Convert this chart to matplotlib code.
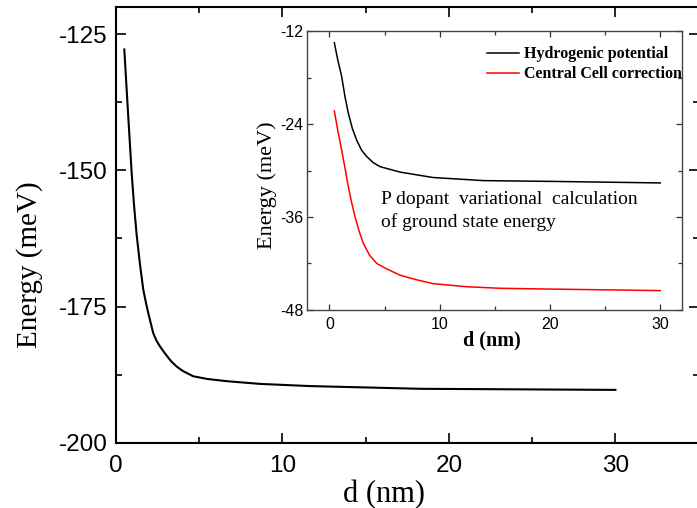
import numpy as np
import matplotlib
matplotlib.use("Agg")
import matplotlib.pyplot as plt
from matplotlib.ticker import MultipleLocator

plt.rcParams["axes.unicode_minus"] = False

# donnees
d_main = [0.5, 0.7, 0.94, 1.09, 1.24, 1.44, 1.64, 1.8, 1.94, 2.1, 2.24, 2.44, 2.64, 2.94, 3.3, 3.64,
          4.0, 4.64, 5.5, 6.65, 8.65, 11.65, 18.3, 30]
E_main = [-127.8, -138.2, -150.4, -156.6, -161.8, -167.2, -171.9, -174.3, -176.2, -178.2, -179.9,
          -181.3, -182.3, -183.6, -185.0, -186.0, -186.8, -187.8, -188.3, -188.7, -189.2, -189.6,
          -190.1, -190.3]

d_hyd = [0.45, 0.76, 1.12, 1.42, 1.72, 2.09, 2.48, 2.93, 3.39, 3.99, 4.6, 6.4, 9.4, 13.96, 20, 30]
E_hyd = [-13.5, -15.7, -17.9, -20.5, -22.6, -24.6, -26.1, -27.4, -28.2, -29.0, -29.5, -30.2, -30.9,
         -31.3, -31.4, -31.6]

d_ccc = [0.45, 0.76, 1.12, 1.42, 1.72, 2.03, 2.33, 2.69, 3.08, 3.63, 4.3, 5.2, 6.4, 7.9, 9.4, 12.45,
         15.5, 20, 30]
E_ccc = [-22.3, -24.8, -27.4, -29.7, -32.1, -34.2, -36.0, -37.8, -39.4, -40.9, -42.0, -42.7, -43.5,
         -44.1, -44.6, -45.0, -45.2, -45.3, -45.5]

sans = "Liberation Sans"
serif = "Liberation Serif"

fig = plt.figure(figsize=(6.97, 5.08), dpi=100)

# axe principal
ax = fig.add_axes([0.1664, 0.1285, 0.836, 0.8577])
ax.plot(d_main, E_main, color="black", lw=1.5)
ax.set_xlim(0, 35)
ax.set_ylim(-200, -120)
ax.xaxis.set_major_locator(MultipleLocator(10))
ax.xaxis.set_minor_locator(MultipleLocator(5))
ax.yaxis.set_major_locator(MultipleLocator(25))
ax.yaxis.set_minor_locator(MultipleLocator(12.5))
ax.tick_params(which="both", direction="in", top=True, right=True, width=1.2)
ax.tick_params(which="major", length=7)
ax.tick_params(which="minor", length=4.5)
ax.tick_params(axis="x", pad=9)
ax.tick_params(axis="y", pad=6)
for s in ax.spines.values():
    s.set_linewidth(1.5)
for lab in ax.get_xticklabels() + ax.get_yticklabels():
    lab.set_fontfamily(sans)
    lab.set_fontsize(17.5)
ax.set_xlabel("d (nm)", fontfamily=serif, fontsize=22)
ax.set_ylabel("Energy (meV)", fontfamily=serif, fontsize=21)
ax.xaxis.set_label_coords(0.46, -0.085)
ax.yaxis.set_label_coords(-0.125, 0.408)

# encart
ins = fig.add_axes([0.4409, 0.3898, 0.538, 0.549])
ins.plot(d_hyd, E_hyd, color="black", lw=1.1, label="Hydrogenic potential")
ins.plot(d_ccc, E_ccc, color="red", lw=1.1, label="Central Cell correction")
ins.set_xlim(-2, 32)
ins.set_ylim(-48, -12)
ins.xaxis.set_major_locator(MultipleLocator(10))
ins.xaxis.set_minor_locator(MultipleLocator(5))
ins.yaxis.set_major_locator(MultipleLocator(12))
ins.yaxis.set_minor_locator(MultipleLocator(6))
ins.tick_params(which="both", direction="in", top=True, right=True, width=0.9, color="#333333")
ins.tick_params(which="major", length=4)
ins.tick_params(which="minor", length=3)
ins.tick_params(axis="x", pad=5)
ins.tick_params(axis="y", pad=3)
for s in ins.spines.values():
    s.set_linewidth(1.0)
    s.set_color("#444444")
for lab in ins.get_xticklabels() + ins.get_yticklabels():
    lab.set_fontfamily(sans)
    lab.set_fontsize(11.5)
ins.set_xlabel("d (nm)", fontfamily=serif, fontsize=14.5, fontweight="bold")
ins.set_ylabel("Energy (meV)", fontfamily=serif, fontsize=16)
ins.xaxis.set_label_coords(0.491, -0.075)
ins.yaxis.set_label_coords(-0.082, 0.448)

ins.legend(loc="upper left", bbox_to_anchor=(0.479, 0.945), frameon=False,
           prop={"family": serif, "weight": "bold", "size": 11.5},
           handlelength=2.0, handletextpad=0.3, labelspacing=0.25,
           borderpad=0, borderaxespad=0)

ins.text(0.1965, 0.38, "P dopant  variational  calculation", transform=ins.transAxes,
         fontfamily=serif, fontsize=14, va="baseline")
ins.text(0.1965, 0.298, "of ground state energy", transform=ins.transAxes,
         fontfamily=serif, fontsize=14, va="baseline")

fig.savefig("out.png", dpi=100)
